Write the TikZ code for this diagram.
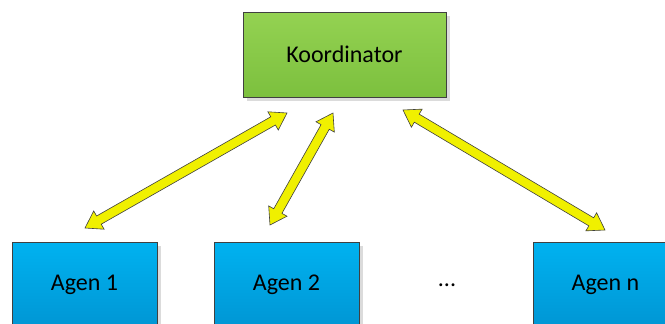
\documentclass[tikz,border=0pt]{standalone}
\usepackage{fontspec}
\setmainfont{Carlito}
\usetikzlibrary{calc,shadows}
\definecolor{gtop}{RGB}{148,210,82}
\definecolor{gbot}{RGB}{124,192,62}
\definecolor{btop}{RGB}{0,178,240}
\definecolor{bbot}{RGB}{0,150,212}
\definecolor{arrowyellow}{RGB}{240,240,0}
\definecolor{edge}{RGB}{64,64,64}
\tikzset{
  box/.style={rectangle, draw=edge, line width=0.8pt, minimum width=145pt, minimum height=85pt,
    inner sep=0pt, font=\fontsize{24}{28}\selectfont,
    drop shadow={shadow xshift=4pt, shadow yshift=-4pt, fill=black!14, opacity=1}},
  coordbox/.style={box, minimum width=203pt, top color=gtop, bottom color=gbot},
  agentbox/.style={box, top color=btop, bottom color=bbot},
  arrowbody/.style={fill=arrowyellow, draw=edge, line width=0.6pt, line join=miter},
  arrowshadow/.style={fill=black!12}
}
\newcommand{\dblarrowpath}[2]{%
  (#1) -- ($($(#1)!16pt!(#2)$)!10.5pt!90:(#2)$)
  -- ($($(#1)!16pt!(#2)$)!4.7pt!90:(#2)$)
  -- ($($(#2)!16pt!(#1)$)!4.7pt!-90:(#1)$)
  -- ($($(#2)!16pt!(#1)$)!10.5pt!-90:(#1)$)
  -- (#2)
  -- ($($(#2)!16pt!(#1)$)!10.5pt!90:(#1)$)
  -- ($($(#2)!16pt!(#1)$)!4.7pt!90:(#1)$)
  -- ($($(#1)!16pt!(#2)$)!4.7pt!-90:(#2)$)
  -- ($($(#1)!16pt!(#2)$)!10.5pt!-90:(#2)$)
  -- cycle}
\newcommand{\dblarrow}[2]{%
  \fill[arrowshadow, shift={(4pt,-4pt)}] \dblarrowpath{#1}{#2};
  \draw[arrowbody] \dblarrowpath{#1}{#2};}
\begin{document}
\begin{tikzpicture}[x=1pt,y=-1pt]
\useasboundingbox (0,0) rectangle (665,324);
\node[coordbox] (koord) at (344.5,54.5) {Koordinator};
\node[agentbox] (a1) at (84.5,284.5) {Agen 1};
\node[agentbox] (a2) at (286.5,284.5) {Agen 2};
\node[agentbox] (an) at (605.5,284.5) {Agen n};
\node[font=\fontsize{24}{28}\selectfont, inner sep=0pt] (dots) at (447,285) {...};
\coordinate (e1a) at (85,228);
\coordinate (e1b) at (287,113);
\coordinate (e2a) at (270,225);
\coordinate (e2b) at (333,113);
\coordinate (e3a) at (605,230);
\coordinate (e3b) at (403,110);
\dblarrow{e1a}{e1b}
\dblarrow{e2a}{e2b}
\dblarrow{e3a}{e3b}
\end{tikzpicture}
\end{document}
